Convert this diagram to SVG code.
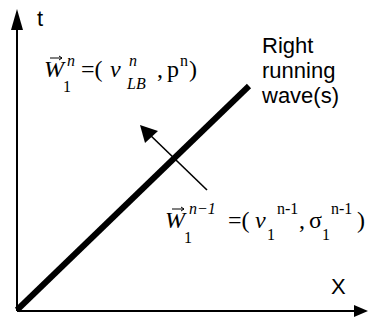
<svg xmlns="http://www.w3.org/2000/svg" width="368" height="320" viewBox="0 0 368 320">
<style>
.lbl{font-family:"Liberation Sans",Arial,sans-serif;font-size:22px;fill:#000}
.m{font-family:"Liberation Serif","Times New Roman",serif;font-size:24px;fill:#000}
.s{font-size:16px}
.i{font-style:italic}
.ax{stroke:#000;stroke-width:2;fill:none}
.vec{stroke:#000;stroke-width:1;fill:none}
</style>
<g id="axes">
<line class="ax" x1="17" y1="311" x2="17" y2="28"/>
<polygon points="17,9 11,30 23,30" fill="#000"/>
<line class="ax" x1="17" y1="311" x2="356" y2="311"/>
<polygon points="368,311 354,305 354,317" fill="#000"/>
<text class="lbl" x="37" y="26">t</text>
<text class="lbl" x="331" y="294">X</text>
</g>
<g id="wave">
<line x1="17" y1="310" x2="249" y2="86" stroke="#000" stroke-width="6"/>
<text class="lbl" x="262" y="53">Right</text>
<text class="lbl" x="262" y="78">running</text>
<text class="lbl" x="262" y="103">wave(s)</text>
</g>
<g id="connectors">
<line x1="207" y1="190" x2="148" y2="133" stroke="#000" stroke-width="1.6"/>
<polygon points="140,125 145,143 158,131" fill="#000"/>
</g>
<g id="state-n">
<path class="vec" d="M50,58 H62 M59,56 L62,58 L59,60"/>
<text class="m i" x="44" y="77">W</text>
<text class="m s" x="63" y="92">1</text>
<text class="m s i" x="67" y="66">n</text>
<text class="m" x="81" y="77">=(</text>
<text class="m i" x="110" y="77">v</text>
<text class="m s i" x="129" y="66">n</text>
<text class="m s i" x="127" y="89">LB</text>
<text class="m" x="157" y="77">,</text>
<text class="m" x="167" y="77">p</text>
<text class="m s" x="180" y="66">n</text>
<text class="m" x="189" y="77">)</text>
</g>
<g id="state-n-1">
<path class="vec" d="M172,209 H184 M181,207 L184,209 L181,211"/>
<text class="m i" x="165" y="228">W</text>
<text class="m s" x="184" y="243">1</text>
<text class="m s i" x="189" y="214">n−1</text>
<text class="m" x="228" y="228">=(</text>
<text class="m i" x="255" y="228">v</text>
<text class="m s" x="267" y="240">1</text>
<text class="m s" x="277" y="214">n-1</text>
<text class="m" x="299" y="228">,</text>
<text class="m" x="309" y="228">σ</text>
<text class="m s" x="322" y="240">1</text>
<text class="m s" x="331" y="214">n-1</text>
<text class="m" x="357" y="228">)</text>
</g>
</svg>
